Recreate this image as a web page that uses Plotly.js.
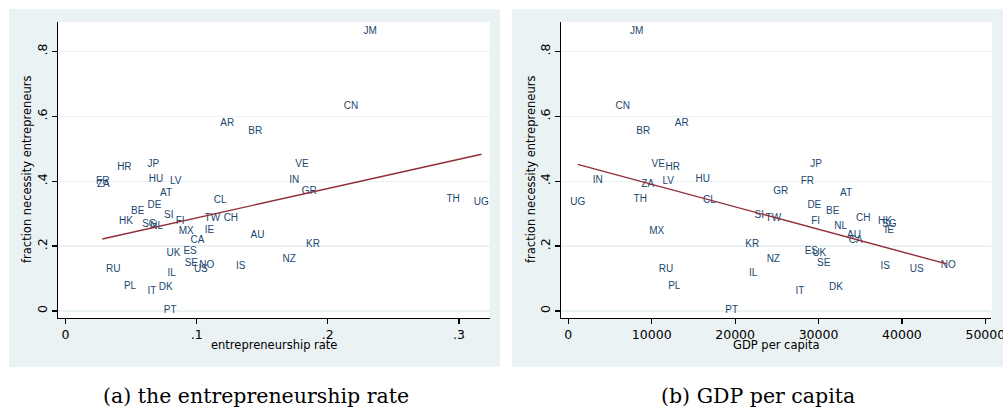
<!DOCTYPE html>
<html>
<head>
<meta charset="utf-8">
<script src="https://cdn.plot.ly/plotly-3.0.1.min.js"></script>
<style>html,body{margin:0;padding:0;background:#fff;}#chart{width:1003px;height:409px;}</style>
</head>
<body>
<div id="chart"></div>
<script>
// Country codes
const countries = ["JM","CN","AR","BR","VE","JP","HR","HU","IN","FR","LV","ZA","GR","AT","TH","CL","UG","DE","BE","SI","TW","CH","HK","FI","SG","NL","IE","MX","AU","CA","KR","ES","UK","NZ","SE","NO","IS","RU","US","IL","PL","DK","IT","PT"];
// Fraction of necessity entrepreneurs (y, shared by both panels)
const necessity = [0.861,0.630,0.578,0.553,0.450,0.450,0.443,0.406,0.403,0.398,0.398,0.390,0.367,0.363,0.344,0.340,0.334,0.325,0.306,0.295,0.284,0.284,0.277,0.275,0.267,0.260,0.249,0.244,0.233,0.217,0.206,0.183,0.178,0.158,0.147,0.141,0.137,0.129,0.129,0.116,0.075,0.072,0.059,0.000];
// Entrepreneurship rate (x, panel a)
const entRate = [0.2324,0.2177,0.1233,0.1447,0.1803,0.0670,0.0449,0.0691,0.1744,0.0284,0.0841,0.0289,0.1859,0.0767,0.2956,0.1180,0.3170,0.0678,0.0551,0.0788,0.1120,0.1261,0.0462,0.0874,0.0640,0.0696,0.1098,0.0920,0.1464,0.1006,0.1887,0.0950,0.0823,0.1706,0.0960,0.1078,0.1337,0.0365,0.1032,0.0810,0.0492,0.0765,0.0660,0.0798];
// GDP per capita (x, panel b)
const gdpPc = [8200,6520,13600,8990,10790,29700,12520,16120,3530,28660,11990,9520,25470,33300,8630,16910,1130,29500,31700,22900,24580,35370,37970,29660,38490,32660,38490,10600,34260,34460,22050,29140,30100,24580,30620,45560,38010,11720,41770,22170,12710,32100,27780,19590];
// Fitted lines (end points)
const fitEntX = [0.0281, 0.3172];
const fitEntY = [0.222, 0.483];
const fitGdpX = [1130, 45370];
const fitGdpY = [0.452, 0.145];
// Tick labels
const yTickVals = [0, 0.2, 0.4, 0.6, 0.8];
const yTickText = ["0", ".2", ".4", ".6", ".8"];
const xEntTickVals = [0, 0.1, 0.2, 0.3];
const xEntTickText = ["0", ".1", ".2", ".3"];
const xGdpTickVals = [0, 10000, 20000, 30000, 40000, 50000];
const xGdpTickText = ["0", "10000", "20000", "30000", "40000", "50000"];

const W = 1003, H = 409;
const labelColor = "#1a476f";
const lineColor = "rgb(144,45,55)";
const bgGray = "#eaf2f3";
const px = v => v / W;
const py = v => 1 - v / H;

const textFont = {family: "Liberation Sans, Arial, sans-serif", size: 10, color: labelColor};

const traces = [
  {x: entRate, y: necessity, text: countries, mode: "text", textposition: "middle center",
   textfont: textFont, xaxis: "x", yaxis: "y", hoverinfo: "text", cliponaxis: false},
  {x: fitEntX, y: fitEntY, mode: "lines", line: {color: lineColor, width: 1.4},
   xaxis: "x", yaxis: "y"},
  {x: gdpPc, y: necessity, text: countries, mode: "text", textposition: "middle center",
   textfont: textFont, xaxis: "x2", yaxis: "y2", hoverinfo: "text", cliponaxis: false},
  {x: fitGdpX, y: fitGdpY, mode: "lines", line: {color: lineColor, width: 1.4},
   xaxis: "x2", yaxis: "y2"}
];

const tickFont = {family: "DejaVu Sans, sans-serif", size: 12.5, color: "#000"};
const xCommon = {showline: true, linecolor: "#000", linewidth: 1.3, ticks: "outside",
  ticklen: 5, tickcolor: "#000", tickwidth: 1.2, showgrid: false, zeroline: false,
  tickfont: tickFont, fixedrange: true, ticklabeloverflow: "allow"};
const yCommon = {showline: true, linecolor: "#000", linewidth: 1.3, ticks: "outside",
  ticklen: 5, tickcolor: "#000", tickwidth: 1.2, showgrid: true, gridcolor: bgGray,
  gridwidth: 1.3, zeroline: false, tickfont: tickFont, tickangle: -90,
  tickvals: yTickVals, ticktext: yTickText, range: [-0.0216, 0.8906], fixedrange: true};

const titleFont = {family: "DejaVu Sans, sans-serif", size: 11.5, color: "#000"};
const captionFont = {family: "DejaVu Serif, serif", size: 20.5, color: "#000"};

const layout = {
  width: W, height: H,
  margin: {l: 0, r: 0, t: 0, b: 0},
  paper_bgcolor: "#fff",
  plot_bgcolor: "rgba(0,0,0,0)",
  showlegend: false,
  xaxis: Object.assign({}, xCommon, {domain: [px(58), px(489.5)], range: [-0.0057, 0.3233],
    tickvals: xEntTickVals, ticktext: xEntTickText, anchor: "y"}),
  yaxis: Object.assign({}, yCommon, {domain: [py(318), py(22)], anchor: "x"}),
  xaxis2: Object.assign({}, xCommon, {domain: [px(561), px(991)], range: [-875, 50680],
    tickvals: xGdpTickVals, ticktext: xGdpTickText, anchor: "y2"}),
  yaxis2: Object.assign({}, yCommon, {domain: [py(318), py(22)], anchor: "x2"}),
  shapes: [
    {type: "rect", xref: "paper", yref: "paper", x0: px(9), x1: px(500), y0: py(367), y1: py(9),
     fillcolor: bgGray, line: {width: 0}, layer: "below"},
    {type: "rect", xref: "paper", yref: "paper", x0: px(512), x1: px(1003), y0: py(367), y1: py(9),
     fillcolor: bgGray, line: {width: 0}, layer: "below"},
    {type: "rect", xref: "paper", yref: "paper", x0: px(58), x1: px(489.5), y0: py(318), y1: py(22),
     fillcolor: "#fff", line: {width: 0}, layer: "below"},
    {type: "rect", xref: "paper", yref: "paper", x0: px(561), x1: px(992), y0: py(318), y1: py(22),
     fillcolor: "#fff", line: {width: 0}, layer: "below"}
  ],
  annotations: [
    {text: "entrepreneurship rate", xref: "paper", yref: "paper", x: px(274), y: py(345),
     showarrow: false, font: titleFont, xanchor: "center", yanchor: "middle"},
    {text: "GDP per capita", xref: "paper", yref: "paper", x: px(776), y: py(345),
     showarrow: false, font: titleFont, xanchor: "center", yanchor: "middle"},
    {text: "fraction necessity entrepreneurs", xref: "paper", yref: "paper", x: px(27), y: py(170),
     showarrow: false, font: titleFont, textangle: -90, xanchor: "center", yanchor: "middle"},
    {text: "fraction necessity entrepreneurs", xref: "paper", yref: "paper", x: px(531), y: py(170),
     showarrow: false, font: titleFont, textangle: -90, xanchor: "center", yanchor: "middle"},
    {text: "(a) the entrepreneurship rate", xref: "paper", yref: "paper", x: px(256), y: py(396),
     showarrow: false, font: captionFont, xanchor: "center", yanchor: "middle"},
    {text: "(b) GDP per capita", xref: "paper", yref: "paper", x: px(758), y: py(396),
     showarrow: false, font: captionFont, xanchor: "center", yanchor: "middle"}
  ]
};

Plotly.newPlot("chart", traces, layout, {displayModeBar: false, staticPlot: true});
</script>
</body>
</html>
